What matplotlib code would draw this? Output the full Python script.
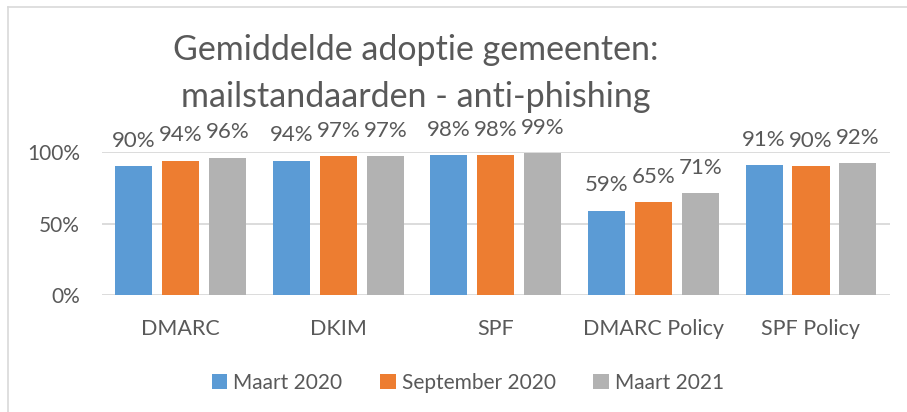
import numpy as np
import matplotlib.pyplot as plt
from matplotlib.lines import Line2D

categories = ['DMARC', 'DKIM', 'SPF', 'DMARC Policy', 'SPF Policy']
series = ['Maart 2020', 'September 2020', 'Maart 2021']
maart_2020 = [0.90, 0.94, 0.98, 0.59, 0.91]
september_2020 = [0.94, 0.97, 0.98, 0.65, 0.90]
maart_2021 = [0.96, 0.97, 0.99, 0.71, 0.92]
colors = ['#5B9BD5', '#ED7D31', '#B2B2B2']
yticks = [0, 0.5, 1.0]
ytick_labels = ['0%', '50%', '100%']

text_color = '#595959'
plt.rcParams['font.family'] = ['Lato', 'DejaVu Sans']

fig = plt.figure(figsize=(9.07, 4.12), dpi=100)
ax = fig.add_axes([0.1125, 0.284, 0.8685, 0.347])

x = np.arange(len(categories))
step = 0.298
width = 0.235
for i, (vals, name, c) in enumerate(zip([maart_2020, september_2020, maart_2021], series, colors)):
    bars = ax.bar(x + (i - 1) * step, vals, width, color=c, label=name, zorder=3)
    for b, v in zip(bars, vals):
        ax.annotate(f'{v:.0%}', (b.get_x() + b.get_width() / 2, v),
                    xytext=(0, 11), textcoords='offset points',
                    ha='center', va='bottom', fontsize=16, color=text_color,
                    annotation_clip=False)

ax.set_xlim(-0.5, len(categories) - 0.5)
ax.set_ylim(0, 1.0)
ax.set_yticks(yticks)
ax.set_yticklabels(ytick_labels)
ax.set_xticks(x)
ax.set_xticklabels(categories)
ax.tick_params(axis='both', length=0, labelsize=15.5, labelcolor=text_color)
ax.tick_params(axis='y', labelsize=15, pad=16)
ax.tick_params(axis='x', pad=17)
ax.grid(axis='y', color='#D9D9D9', linewidth=1.3, zorder=0)
for s in ax.spines.values():
    s.set_visible(False)
ax.set_axisbelow(True)

fig.text(0.458, 0.822, 'Gemiddelde adoptie gemeenten:\nmailstandaarden - anti-phishing',
         ha='center', va='center', fontsize=24.5, color=text_color,
         linespacing=1.6)

ax.legend(loc='center', bbox_to_anchor=(468 / 907, 1 - 383 / 412),
          bbox_transform=fig.transFigure, ncol=3, frameon=False,
          fontsize=15, labelcolor=text_color, handlelength=0.75, handleheight=0.75,
          handletextpad=0.3, columnspacing=1.8)

# chart frame
fig.add_artist(Line2D([8 / 907, 1], [1 - 7 / 412, 1 - 7 / 412], color='#D9D9D9', lw=1.2, transform=fig.transFigure))
fig.add_artist(Line2D([8 / 907, 8 / 907], [0, 1 - 7 / 412], color='#D9D9D9', lw=1.2, transform=fig.transFigure))

fig.savefig('out.png', dpi=100)
